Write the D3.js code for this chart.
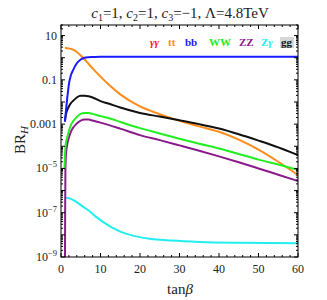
<!DOCTYPE html>
<html>
<head>
<meta charset="utf-8">
<script src="https://cdn.jsdelivr.net/npm/d3@7"></script>
<style>
  body { margin: 0; background: #fff; }
  text { font-family: "Liberation Serif", "DejaVu Serif", serif; }
</style>
</head>
<body>
<svg id="chart" width="327" height="300"></svg>
<script>
// values (BR_H vs tan beta)
const tanB = [1, 1.2, 1.5, 2, 2.5, 3, 4, 5, 6, 7, 8, 10, 12, 15, 20, 25, 30, 35, 40, 45, 50, 55, 60];
const brTT = [2.75, 2.75, 2.7, 2.6, 2.5, 2.3, 1.8, 1.26, 0.83, 0.52, 0.33, 0.14, 0.063, 0.022, 6.3e-3, 2.8e-3, 1.4e-3, 7.9e-4, 4.5e-4, 2.0e-4, 7.1e-5, 2.0e-5, 5.0e-6];
const brBB = [1.26e-3, 3.2e-3, 1.1e-2, 6.3e-2, 0.16, 0.26, 0.56, 0.83, 1.0, 1.05, 1.07, 1.1, 1.1, 1.1, 1.1, 1.1, 1.1, 1.1, 1.1, 1.1, 1.1, 1.1, 1.1];
const brGG = [1.4e-3, 2.5e-3, 4.0e-3, 6.3e-3, 8.9e-3, 1.1e-2, 1.6e-2, 1.9e-2, 1.9e-2, 1.8e-2, 1.6e-2, 1.1e-2, 8.5e-3, 5.6e-3, 3.2e-3, 2.2e-3, 1.5e-3, 1.0e-3, 6.3e-4, 3.5e-4, 1.8e-4, 8.9e-5, 4.0e-5];

const tanBWW = [0.9, 1, 1.1, 1.2, 1.5, 2, 2.5, 3, 4, 5, 6, 7, 8, 10, 12, 15, 20, 25, 30, 35, 40, 45, 50, 55, 60];
const brWW = [1.0e-5, 4.0e-5, 7.9e-5, 1.26e-4, 2.2e-4, 5.0e-4, 8.9e-4, 1.3e-3, 2.1e-3, 2.9e-3, 3.2e-3, 3.2e-3, 2.9e-3, 2.3e-3, 1.9e-3, 1.26e-3, 6.6e-4, 3.8e-4, 2.2e-4, 1.3e-4, 7.9e-5, 4.5e-5, 2.5e-5, 1.5e-5, 8.5e-6];

const tanBZZ = [1.0, 1.05, 1.12, 1.25, 1.5, 2, 2.5, 3, 4, 5, 6, 7, 8, 10, 12, 15, 20, 25, 30, 35, 40, 45, 50, 55, 60];
const brZZ = [1e-10, 1e-7, 1e-5, 4e-5, 1e-4, 2.5e-4, 4.5e-4, 6.6e-4, 1.07e-3, 1.45e-3, 1.6e-3, 1.6e-3, 1.45e-3, 1.17e-3, 9.3e-4, 6.3e-4, 3.2e-4, 1.9e-4, 1.1e-4, 6.3e-5, 3.5e-5, 1.9e-5, 1.0e-5, 5.2e-6, 2.7e-6];

const tanBZA = [1, 2, 3, 4, 5, 7, 9, 11, 13, 15, 17.5, 20, 22, 25, 28, 35, 45, 60];
const brZA = [4.8e-7, 4.5e-7, 3.8e-7, 3.0e-7, 2.2e-7, 1.26e-7, 6.3e-8, 3.5e-8, 2.1e-8, 1.4e-8, 1.0e-8, 7.9e-9, 6.9e-9, 6.0e-9, 5.5e-9, 4.8e-9, 4.4e-9, 4.2e-9];

const xTicks = [0, 10, 20, 30, 40, 50, 60];
const yTicks = [10, 0.1, 1e-3, 1e-5, 1e-7, 1e-9];
const legendNames = ["γγ", "tt", "bb", "WW", "ZZ", "Zγ", "gg"];

const svg = d3.select("#chart");
const m = {left: 61, right: 298, top: 25, bottom: 257};

const x = d3.scaleLinear().domain([0, 60]).range([m.left, m.right]);
const y = d3.scaleLog().domain([1e-9, 30]).range([m.bottom, m.top]);

svg.append("clipPath").attr("id", "clip")
  .append("rect").attr("x", m.left).attr("y", m.top)
  .attr("width", m.right - m.left).attr("height", m.bottom - m.top);

const line = d3.line()
  .x(d => x(d[0]))
  .y(d => y(Math.max(d[1], 1e-11)))
  .curve(d3.curveMonotoneX);

const series = [
  {xs: tanB, ys: brTT, color: "#ff8c1a"},
  {xs: tanBZA, ys: brZA, color: "#22eeee"},
  {xs: tanBZZ, ys: brZZ, color: "#8b1a8b"},
  {xs: tanBWW, ys: brWW, color: "#22ee22"},
  {xs: tanB, ys: brGG, color: "#111111"},
  {xs: tanB, ys: brBB, color: "#1a1aff"}
];

const plot = svg.append("g").attr("clip-path", "url(#clip)");
series.forEach(s => {
  plot.append("path")
    .datum(d3.zip(s.xs, s.ys))
    .attr("fill", "none")
    .attr("stroke", s.color)
    .attr("stroke-width", 2)
    .attr("stroke-linejoin", "round")
    .attr("d", line);
});

// frame
svg.append("rect")
  .attr("x", m.left).attr("y", m.top)
  .attr("width", m.right - m.left).attr("height", m.bottom - m.top)
  .attr("fill", "none").attr("stroke", "#000").attr("stroke-width", 1);

// x ticks (bottom & top, inward)
const xMinor = d3.range(0, 61, 2);
const tickG = svg.append("g").attr("stroke", "#000").attr("stroke-width", 1);
xMinor.forEach(v => {
  const len = v % 10 === 0 ? 4 : 2;
  tickG.append("line").attr("x1", x(v)).attr("x2", x(v)).attr("y1", m.bottom).attr("y2", m.bottom - len);
  tickG.append("line").attr("x1", x(v)).attr("x2", x(v)).attr("y1", m.top).attr("y2", m.top + len);
});

// y ticks (left & right, inward)
const yMinor = [];
for (let e = -9; e <= 1; e++) {
  for (let k = 1; k <= 9; k++) {
    const v = k * Math.pow(10, e);
    if (v >= 1e-9 && v <= 30) yMinor.push([v, k === 1]);
  }
}
yMinor.forEach(([v, isDecade]) => {
  const len = isDecade ? 4 : 2;
  tickG.append("line").attr("x1", m.left).attr("x2", m.left + len).attr("y1", y(v)).attr("y2", y(v));
  tickG.append("line").attr("x1", m.right).attr("x2", m.right - len).attr("y1", y(v)).attr("y2", y(v));
});

// x tick labels
svg.append("g").selectAll("text").data(xTicks).enter().append("text")
  .attr("x", d => x(d)).attr("y", 273)
  .attr("text-anchor", "middle").attr("font-size", 12).attr("fill", "#222")
  .text(d => d);

// y tick labels
const yLab = svg.append("g");
yTicks.forEach(v => {
  const e = Math.round(Math.log10(v));
  const t = yLab.append("text")
    .attr("x", m.left - 4).attr("y", y(v) + 4)
    .attr("text-anchor", "end").attr("font-size", 12).attr("fill", "#222");
  if (e >= -3) {
    t.text(e === 1 ? "10" : e === -1 ? "0.1" : "0.001");
  } else {
    t.append("tspan").text("10");
    t.append("tspan").attr("dy", -5).attr("font-size", 8.5).text("\u2212" + (-e));
  }
});

// title
const title = svg.append("text").attr("x", 180).attr("y", 18)
  .attr("text-anchor", "middle").attr("font-size", 15).attr("fill", "#222");
[["c", "1", "=1, "], ["c", "2", "=1, "], ["c", "3", "=\u22121, "]].forEach(p => {
  title.append("tspan").attr("font-style", "italic").text(p[0]);
  title.append("tspan").attr("dy", 3).attr("font-size", 10).text(p[1]);
  title.append("tspan").attr("dy", -3).text(p[2]);
});
title.append("tspan").text("\u039B=4.8TeV");

// axis titles
svg.append("text").attr("x", 180).attr("y", 294)
  .attr("text-anchor", "middle").attr("font-size", 15).attr("fill", "#222")
  .call(t => {
    t.append("tspan").text("tan");
    t.append("tspan").attr("font-style", "italic").text("β");
  });

svg.append("text")
  .attr("transform", "translate(25,140) rotate(-90)")
  .attr("text-anchor", "middle").attr("font-size", 15).attr("fill", "#222")
  .call(t => {
    t.append("tspan").text("BR");
    t.append("tspan").attr("dy", 3).attr("font-size", 11).attr("font-style", "italic").text("H");
  });

// legend
const legendX = [150, 168, 185, 209, 239, 261, 281];
const legendColors = ["#ff1a1a", "#ff8c1a", "#1a1aff", "#22ee22", "#8b1a8b", "#22eeee", "#111"];
const lg = svg.append("g");
lg.append("rect").attr("x", 280).attr("y", 37).attr("width", 14).attr("height", 11).attr("fill", "#d8d8d8");
legendNames.forEach((n, i) => {
  const t = lg.append("text").attr("x", legendX[i]).attr("y", 46)
    .attr("font-size", 11).attr("font-weight", "bold").attr("fill", legendColors[i]);
  if (n === "γγ") t.attr("font-style", "italic").text(n);
  else if (n === "Zγ") {
    t.append("tspan").text("Z");
    t.append("tspan").attr("font-style", "italic").text("γ");
  } else t.text(n);
});
</script>
</body>
</html>
